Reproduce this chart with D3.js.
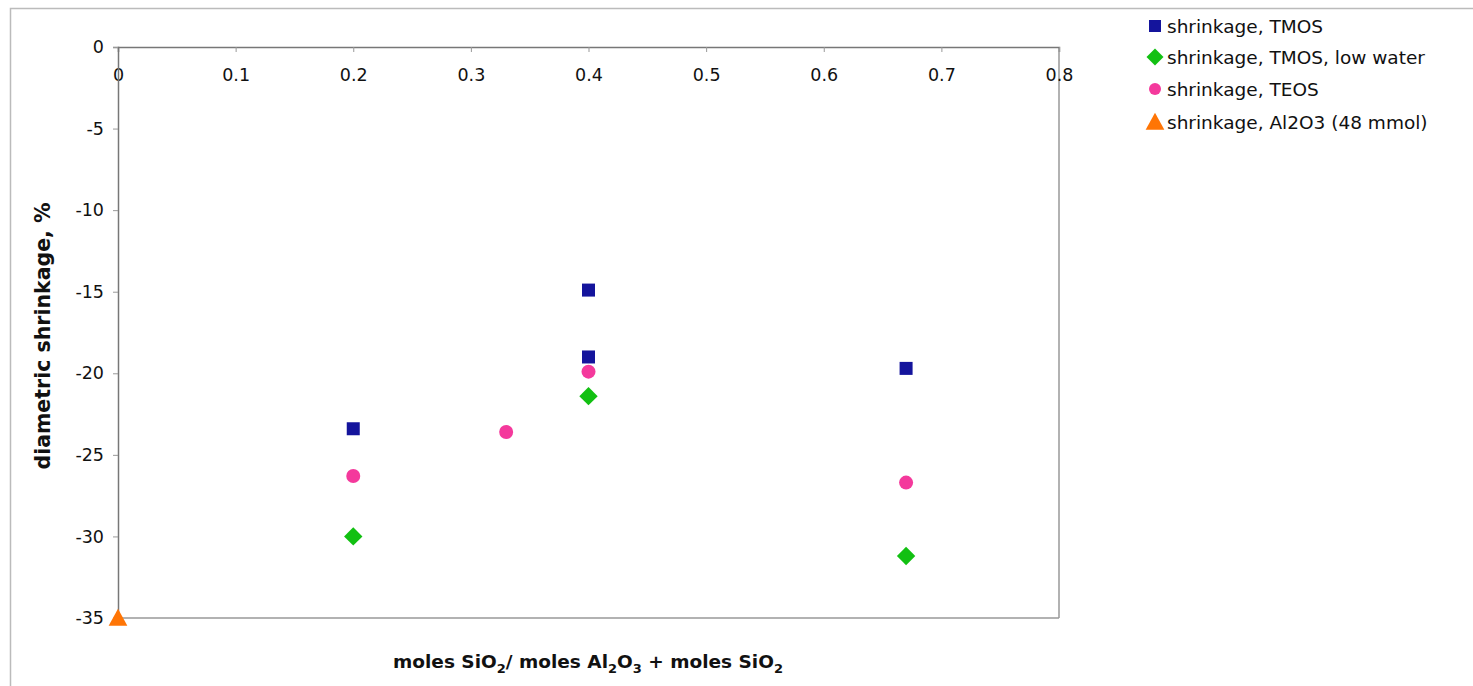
<!DOCTYPE html>
<html><head><meta charset="utf-8">
<script src="https://cdn.jsdelivr.net/npm/d3@7"></script>
<style>body{margin:0;background:#fff}svg{display:block}text{font-family:"DejaVu Sans",Verdana,sans-serif}</style>
</head><body>
<script>
const seriesNames = ["shrinkage, TMOS","shrinkage, TMOS, low water","shrinkage, TEOS","shrinkage, Al2O3 (48 mmol)"];
const tmosX = [0.2, 0.4, 0.4, 0.67];
const tmosY = [-23.4, -14.9, -19.0, -19.7];
const lowWaterX = [0.2, 0.4, 0.67];
const lowWaterY = [-30.0, -21.4, -31.2];
const teosX = [0.2, 0.33, 0.4, 0.67];
const teosY = [-26.3, -23.6, -19.9, -26.7];
const al2o3X = [0];
const al2o3Y = [-35];
const xTicks = [0,0.1,0.2,0.3,0.4,0.5,0.6,0.7,0.8];
const yTicks = [0,-5,-10,-15,-20,-25,-30,-35];
const colors = ["#14149c","#12c012","#f4399c","#ff7505"];

const W=1473,H=686;
const svg=d3.select("body").append("svg").attr("width",W).attr("height",H);
svg.append("rect").attr("x",10.5).attr("y",8.5).attr("width",1500).attr("height",700).attr("fill","none").attr("stroke","#bbb").attr("stroke-width",1.5);

const x=d3.scaleLinear().domain([0,0.8]).range([118,1059]);
const y=d3.scaleLinear().domain([-35,0]).range([618,47]);

svg.append("line").attr("x1",1059).attr("x2",1059).attr("y1",47).attr("y2",618).attr("stroke","#999").attr("stroke-width",1.5);
svg.append("line").attr("x1",118).attr("x2",1059).attr("y1",618).attr("y2",618).attr("stroke","#999").attr("stroke-width",1.5);

const xa=svg.append("g").attr("transform",`translate(0,${y(0)})`)
  .call(d3.axisBottom(x).tickValues(xTicks).tickSize(5).tickPadding(17).tickFormat(d=>String(+d.toFixed(1))));
const ya=svg.append("g").attr("transform",`translate(${x(0)},0)`)
  .call(d3.axisLeft(y).tickValues(yTicks).tickSize(5).tickPadding(9).tickFormat(d=>String(d)));
[xa,ya].forEach(g=>{
  g.select(".domain").attr("stroke","#777").attr("stroke-width",1.5);
  g.selectAll(".tick line").attr("stroke","#999");
  g.selectAll(".tick text").attr("font-size",17.5).attr("fill","#111").attr("font-family","DejaVu Sans");
});

function marker(sel,i,s){
  if(i===0) sel.append("rect").attr("x",-s/2).attr("y",-s/2).attr("width",s).attr("height",s).attr("fill",colors[i]);
  else if(i===1) sel.append("rect").attr("x",-s/2).attr("y",-s/2).attr("width",s).attr("height",s).attr("transform","rotate(45)").attr("fill",colors[i]);
  else if(i===2) sel.append("circle").attr("r",s/2).attr("fill",colors[i]);
  else sel.append("path").attr("d",`M0,${-s*0.55}L${s*0.55},${s*0.45}L${-s*0.55},${s*0.45}Z`).attr("fill",colors[i]);
}
const msize=[13,13,14,17];
const sets=[[tmosX,tmosY],[lowWaterX,lowWaterY],[teosX,teosY],[al2o3X,al2o3Y]];
sets.forEach(([xs,ys],i)=>{
  svg.append("g").selectAll("g").data(xs.map((v,j)=>[v,ys[j]])).join("g")
    .attr("transform",d=>`translate(${x(d[0])},${y(d[1])})`)
    .each(function(){marker(d3.select(this),i,msize[i]);});
});

svg.append("text").attr("transform","translate(50,336) rotate(-90)").attr("text-anchor","middle")
  .attr("font-size",20.5).attr("font-weight","bold").attr("fill","#111").text("diametric shrinkage, %");
const xt=svg.append("text").attr("x",588).attr("y",668).attr("text-anchor","middle")
  .attr("font-size",18.5).attr("font-weight","bold").attr("fill","#111");
const parts=[["moles SiO",0],["2",1],["/ moles Al",0],["2",1],["O",0],["3",1],[" + moles SiO",0],["2",1]];
parts.forEach(([t,s],i)=>{
  const prev=i>0?parts[i-1][1]:0;
  const ts=xt.append("tspan").text(t).attr("dy", s&&!prev?5:(!s&&prev?-5:0));
  if(s) ts.attr("font-size",13);
});

const lg=svg.append("g");
const rows=[26,57,89,122];
const lsize=[12,12,12,17];
seriesNames.forEach((n,i)=>{
  const g=lg.append("g").attr("transform",`translate(1155,${rows[i]})`);
  marker(g,i,lsize[i]);
  lg.append("text").attr("x",1167).attr("y",rows[i]+6.5).attr("font-size",18.5).attr("fill","#111").text(n);
});
</script>
</body></html>
